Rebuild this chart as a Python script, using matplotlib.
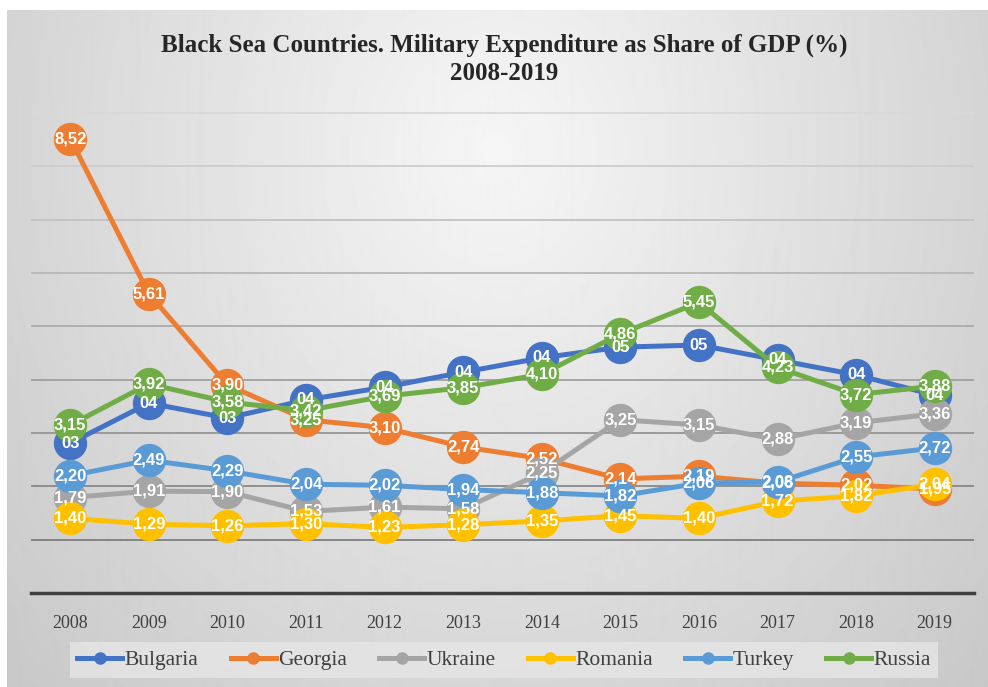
import numpy as np
import matplotlib
matplotlib.use("Agg")
import matplotlib.pyplot as plt

# Data
years = ["2008", "2009", "2010", "2011", "2012", "2013",
         "2014", "2015", "2016", "2017", "2018", "2019"]
bulgaria = [2.81, 3.56, 3.28, 3.62, 3.86, 4.14, 4.41, 4.61, 4.65, 4.37, 4.09, 3.71]
georgia = [8.52, 5.61, 3.90, 3.25, 3.10, 2.74, 2.52, 2.14, 2.19, 2.06, 2.02, 1.95]
ukraine = [1.79, 1.91, 1.90, 1.53, 1.61, 1.58, 2.25, 3.25, 3.15, 2.88, 3.19, 3.36]
romania = [1.40, 1.29, 1.26, 1.30, 1.23, 1.28, 1.35, 1.45, 1.40, 1.72, 1.82, 2.04]
turkey = [2.20, 2.49, 2.29, 2.04, 2.02, 1.94, 1.88, 1.82, 2.06, 2.08, 2.55, 2.72]
russia = [3.15, 3.92, 3.58, 3.42, 3.69, 3.85, 4.10, 4.86, 5.45, 4.23, 3.72, 3.88]

names = ["Bulgaria", "Georgia", "Ukraine", "Romania", "Turkey", "Russia"]
series = [bulgaria, georgia, ukraine, romania, turkey, russia]
colors = ["#4472C4", "#ED7D31", "#A5A5A5", "#FFC000", "#5B9BD5", "#70AD47"]

W, H = 988, 687
fig = plt.figure(figsize=(W / 100, H / 100), dpi=100)
fig.patch.set_facecolor("white")

# radial grey background (white strip at top and left like the source)
bg = fig.add_axes([7 / W, 0, 1 - 7 / W, (H - 10) / H], zorder=-5)
yy, xx = np.mgrid[10:H, 7:W]
d = np.sqrt(((xx - 495) / 520.0) ** 2 + ((yy - 150) / 600.0) ** 2)
val = np.clip(0.965 - 0.14 * d, 0, 1)
bg.imshow(val, cmap="gray", vmin=0, vmax=1, aspect="auto",
          extent=[0, 1, 0, 1], interpolation="bilinear")
bg.axis("off")

ax = fig.add_axes([31 / W, (H - 593) / H, (974 - 31) / W, 9.3 * 53.33 / H])
ax.patch.set_alpha(0)
x = np.arange(len(years))

for i, (name, vals, c) in enumerate(zip(names, series, colors)):
    ax.plot(x, vals, color=c, lw=3.6, marker="o", ms=23, mec=c, mfc=c,
            label=name, zorder=3 + i, solid_capstyle="round")

# data labels (Bulgaria shown as rounded two-digit labels like the source)
for name, vals in zip(names, series):
    for xi, v in zip(x, vals):
        if name == "Bulgaria":
            txt = "%02d" % round(v)
        else:
            txt = ("%.2f" % v).replace(".", ",")
        ax.text(xi, v, txt, ha="center", va="center", color="white",
                fontsize=12, fontweight="bold", family="Liberation Sans",
                zorder=20)

ax.set_xlim(-0.5, len(years) - 0.5)
ax.set_ylim(0, 9.3)
ax.set_yticks(np.arange(0, 10, 1))
ax.set_yticklabels([])
ax.tick_params(axis="y", length=0)
ax.set_xticks(x)
ax.set_xticklabels(years, family="Liberation Serif", fontsize=13,
                   color="#404040")
ax.tick_params(axis="x", length=0, pad=16)
ax.grid(axis="y", lw=1.3)
ax.set_axisbelow(True)
glines = ax.get_ygridlines()
shades = np.linspace(0.45, 0.85, len(glines))
for gl, s in zip(glines, shades):
    gl.set_color((s, s, s))
for sp in ["top", "right", "left"]:
    ax.spines[sp].set_visible(False)
ax.spines["bottom"].set_color("#404040")
ax.spines["bottom"].set_linewidth(2.5)

fig.text(504 / W, 1 - 45 / H, "Black Sea Countries. Military Expenditure as Share of GDP (%)",
         ha="center", va="center", family="Liberation Serif", fontweight="bold",
         fontsize=18, color="#262626")
fig.text(504 / W, 1 - 73 / H, "2008-2019", ha="center", va="center",
         family="Liberation Serif", fontweight="bold", fontsize=18, color="#262626")

handles = [plt.Line2D([], [], color=c, lw=3.6, marker="o", ms=8) for c in colors]
leg = fig.legend(handles, names, loc="center", bbox_to_anchor=(504 / W, 1 - 660 / H),
                 ncol=6, frameon=True, fancybox=False, handlelength=2.1,
                 handletextpad=0.1, columnspacing=1.5, borderpad=0.35,
                 prop={"family": "Liberation Serif", "size": 15.5})
leg.get_frame().set_facecolor("#e6e6e6")
leg.get_frame().set_edgecolor("none")
for t in leg.get_texts():
    t.set_color("#404040")

fig.savefig("out.png", dpi=100)
